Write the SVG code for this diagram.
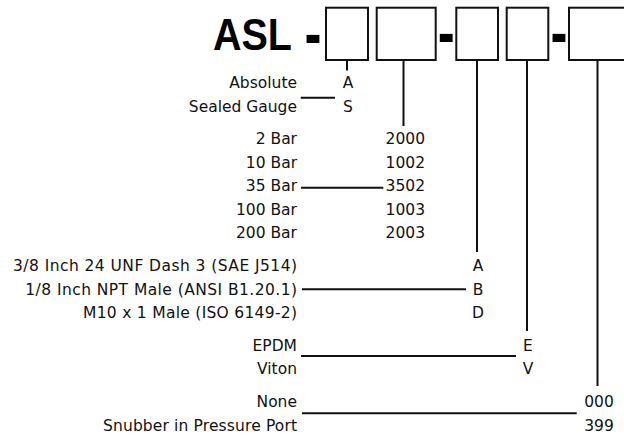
<svg xmlns="http://www.w3.org/2000/svg" width="624" height="436" viewBox="0 0 624 436">
<style>
text{font-family:"DejaVu Sans","Verdana",sans-serif;font-size:15.5px;fill:#111}
.l{text-anchor:end}
.c{text-anchor:middle}
.big{font-family:"Liberation Sans",Arial,sans-serif;font-weight:bold;font-size:44px;fill:#000}
.dash{font-family:"DejaVu Sans",sans-serif;font-weight:bold;font-size:42px;fill:#000;text-anchor:middle}
.box{fill:#fff;stroke:#111;stroke-width:2}
.cn{stroke:#111;stroke-width:2;fill:none}
</style>
<rect width="624" height="436" fill="#fff"/>
<g id="title">
<text class="big" x="213" y="49.5" textLength="79" lengthAdjust="spacingAndGlyphs">ASL</text>
<g transform="translate(0,38) scale(1,1.35) translate(0,-38)">
<text class="dash" x="313" y="50.5">-</text>
<text class="dash" x="446.3" y="49.5">-</text>
<text class="dash" x="559" y="49.5">-</text>
</g>
</g>
<g id="box1"><rect class="box" x="326" y="7.7" width="42" height="52.3"/></g>
<g id="box2"><rect class="box" x="376.7" y="7.7" width="59" height="52.3"/></g>
<g id="box3"><rect class="box" x="456.3" y="7.7" width="41.7" height="52.3"/></g>
<g id="box4"><rect class="box" x="506.7" y="7.7" width="41.6" height="52.3"/></g>
<g id="box5"><rect class="box" x="569" y="7.7" width="70" height="52.3"/></g>
<g id="connectors">
<line class="cn" x1="347" y1="61" x2="347" y2="70.5"/>
<line class="cn" x1="403.5" y1="61" x2="403.5" y2="126"/>
<line class="cn" x1="477" y1="61" x2="477" y2="252"/>
<line class="cn" x1="527" y1="61" x2="527" y2="331"/>
<line class="cn" x1="597.5" y1="61" x2="597.5" y2="386"/>
<line class="cn" x1="300.7" y1="97.7" x2="335" y2="97.7"/>
<line class="cn" x1="301" y1="187.7" x2="383.3" y2="187.7"/>
<line class="cn" x1="302" y1="289.3" x2="466" y2="289.3"/>
<line class="cn" x1="301" y1="356" x2="516" y2="356"/>
<line class="cn" x1="302" y1="413.3" x2="576.7" y2="413.3"/>
</g>
<g id="type">
<text class="l" x="297" y="88">Absolute</text>
<text class="l" x="297" y="111.5">Sealed Gauge</text>
<text class="c" x="348" y="88">A</text>
<text class="c" x="348" y="111.5">S</text>
</g>
<g id="range">
<text class="l" x="297" y="144">2 Bar</text>
<text class="l" x="297" y="167.5">10 Bar</text>
<text class="l" x="297" y="191">35 Bar</text>
<text class="l" x="297" y="214.5">100 Bar</text>
<text class="l" x="297" y="238">200 Bar</text>
<text class="l" x="425" y="144">2000</text>
<text class="l" x="425" y="167.5">1002</text>
<text class="l" x="425" y="191">3502</text>
<text class="l" x="425" y="214.5">1003</text>
<text class="l" x="425" y="238">2003</text>
</g>
<g id="port">
<text class="l" x="297" y="271" textLength="284">3/8 Inch 24 UNF Dash 3 (SAE J514)</text>
<text class="l" x="297" y="294.5" textLength="271.7">1/8 Inch NPT Male (ANSI B1.20.1)</text>
<text class="l" x="297" y="318" textLength="214">M10 x 1 Male (ISO 6149-2)</text>
<text class="c" x="478" y="271">A</text>
<text class="c" x="478" y="294.5">B</text>
<text class="c" x="478" y="318">D</text>
</g>
<g id="seal">
<text class="l" x="297" y="350.5">EPDM</text>
<text class="l" x="297" y="374">Viton</text>
<text class="c" x="528" y="350.5">E</text>
<text class="c" x="528" y="374">V</text>
</g>
<g id="option">
<text class="l" x="297" y="407">None</text>
<text class="l" x="297" y="430.5" textLength="194">Snubber in Pressure Port</text>
<text class="c" x="599" y="407">000</text>
<text class="c" x="599" y="430.5">399</text>
</g>
</svg>
